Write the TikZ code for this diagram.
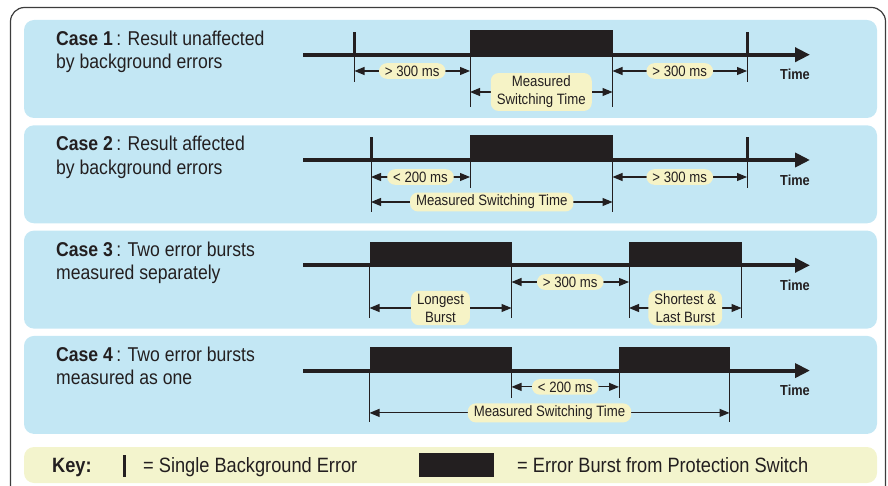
\documentclass[tikz,border=0pt]{standalone}
\usepackage{fontspec}
\setmainfont{Liberation Sans}[FakeStretch=0.88]
\usetikzlibrary{arrows.meta}

\definecolor{ink}{HTML}{231F20}
\definecolor{panelblue}{HTML}{C3E7F4}
\definecolor{keyyellow}{HTML}{F3F4CD}
\definecolor{tagyellow}{HTML}{F6F3C6}
\definecolor{framegray}{HTML}{3C3C3C}

\newcommand{\casefont}{\fontsize{20}{24}\selectfont}
\newcommand{\keyfont}{\fontsize{20.7}{24}\selectfont}
\newcommand{\tagfont}{\fontsize{15}{18}\selectfont}
\newcommand{\timefont}{\fontsize{14.5}{16}\selectfont\bfseries}

\tikzset{
  panel/.style={fill=panelblue, rounded corners=10pt},
  keypanel/.style={fill=keyyellow, rounded corners=10pt},
  timeaxis/.style={draw=ink, line width=4pt, -{Triangle[length=15pt,width=14pt]}},
  burst/.style={fill=ink},
  errtick/.style={fill=ink},
  extline/.style={draw=ink, line width=1pt},
  dimline/.style={draw=ink, line width=1.1pt,
    {Triangle[length=10pt,width=8pt]}-{Triangle[length=10pt,width=8pt]}},
  tag/.style={fill=tagyellow, rounded corners=8pt, inner xsep=6pt, inner ysep=2.5pt,
    font=\tagfont, text=ink, align=center},
  casetext/.style={anchor=base west, inner sep=0pt, font=\casefont, text=ink},
  keytext/.style={anchor=base west, inner sep=0pt, font=\keyfont, text=ink},
  timetag/.style={anchor=base, inner sep=0pt, font=\timefont, text=ink},
}

\begin{document}
\begin{tikzpicture}[x=1pt, y=-1pt]
\useasboundingbox (0,0) rectangle (888,486);
\clip (0,0) rectangle (888,486);

% outer frame (open at the bottom edge of the page)
\draw[framegray, line width=1.2pt, rounded corners=14pt] (10.5,7.5) rectangle (885.5,500);

% ---------------- Case 1 ----------------
\begin{scope}
  \fill[panel] (24,20) rectangle (877,118);
  \node[casetext] (c1a) at (56,45.5) {\textbf{Case 1}\,: Result unaffected};
  \node[casetext] (c1b) at (56,69) {by background errors};
  \draw[timeaxis] (303,54.7) -- (810,54.7);
  \node[timetag] (c1time) at (795,80) {Time};
  \fill[errtick] (353,32) rectangle (356,54.7);
  \fill[burst] (470,30) rectangle (612.5,56.7);
  \fill[errtick] (745.5,32) rectangle (748.5,54.7);
  \coordinate (c1e1) at (354.5,54.7);
  \coordinate (c1e2) at (470,54.7);
  \coordinate (c1e3) at (612.5,54.7);
  \coordinate (c1e4) at (747,54.7);
  \draw[extline] (c1e1) -- ++(0,27.3) coordinate (c1f1);
  \draw[extline] (c1e2) -- ++(0,52.3) coordinate (c1f2);
  \draw[extline] (c1e3) -- ++(0,52.3) coordinate (c1f3);
  \draw[extline] (c1e4) -- ++(0,27.3) coordinate (c1f4);
  \coordinate (c1d1a) at (354.5,71); \coordinate (c1d1b) at (470,71);
  \coordinate (c1d2a) at (470,92);   \coordinate (c1d2b) at (612.5,92);
  \coordinate (c1d3a) at (612.5,71); \coordinate (c1d3b) at (747,71);
  \draw[dimline] (c1d1a) -- (c1d1b) node[midway, tag] (c1t1) {> 300 ms};
  \draw[dimline] (c1d2a) -- (c1d2b) node[midway, tag, inner ysep=3pt] (c1t2) {Measured\\Switching Time};
  \draw[dimline] (c1d3a) -- (c1d3b) node[midway, tag] (c1t3) {> 300 ms};
\end{scope}

% ---------------- Case 2 ----------------
\begin{scope}[shift={(0,105.3)}]
  \fill[panel] (24,20) rectangle (877,118);
  \node[casetext] (c2a) at (56,45.5) {\textbf{Case 2}\,: Result affected};
  \node[casetext] (c2b) at (56,69) {by background errors};
  \draw[timeaxis] (303,54.7) -- (810,54.7);
  \node[timetag] (c2time) at (795,80) {Time};
  \fill[errtick] (369.5,32) rectangle (372.5,54.7);
  \fill[burst] (470,30) rectangle (612.5,56.7);
  \fill[errtick] (745.5,32) rectangle (748.5,54.7);
  \coordinate (c2e1) at (371,54.7);
  \coordinate (c2e2) at (470,54.7);
  \coordinate (c2e3) at (612.5,54.7);
  \coordinate (c2e4) at (747,54.7);
  \draw[extline] (c2e1) -- ++(0,52) coordinate (c2f1);
  \draw[extline] (c2e2) -- ++(0,28) coordinate (c2f2);
  \draw[extline] (c2e3) -- ++(0,52) coordinate (c2f3);
  \draw[extline] (c2e4) -- ++(0,28) coordinate (c2f4);
  \coordinate (c2d1a) at (371,71.7);   \coordinate (c2d1b) at (470,71.7);
  \coordinate (c2d2a) at (371,96.7);   \coordinate (c2d2b) at (612.5,96.7);
  \coordinate (c2d3a) at (612.5,71.7); \coordinate (c2d3b) at (747,71.7);
  \draw[dimline] (c2d1a) -- (c2d1b) node[midway, tag] (c2t1) {< 200 ms};
  \draw[dimline] (c2d2a) -- (c2d2b) node[midway, tag] (c2t2) {Measured Switching Time};
  \draw[dimline] (c2d3a) -- (c2d3b) node[midway, tag] (c2t3) {> 300 ms};
\end{scope}

% ---------------- Case 3 ----------------
\begin{scope}[shift={(0,210.6)}]
  \fill[panel] (24,20) rectangle (877,118);
  \node[casetext] (c3a) at (56,45.5) {\textbf{Case 3}\,: Two error bursts};
  \node[casetext] (c3b) at (56,69) {measured separately};
  \draw[timeaxis] (303,54.7) -- (810,54.7);
  \node[timetag] (c3time) at (795,80) {Time};
  \fill[burst] (369.5,31) rectangle (511.5,56.7);
  \fill[burst] (629,31) rectangle (741.5,56.7);
  \coordinate (c3e1) at (369.5,54.7);
  \coordinate (c3e2) at (511.5,54.7);
  \coordinate (c3e3) at (629,54.7);
  \coordinate (c3e4) at (741.5,54.7);
  \draw[extline] (c3e1) -- ++(0,52.5) coordinate (c3f1);
  \draw[extline] (c3e2) -- ++(0,53) coordinate (c3f2);
  \draw[extline] (c3e3) -- ++(0,53) coordinate (c3f3);
  \draw[extline] (c3e4) -- ++(0,53) coordinate (c3f4);
  \coordinate (c3d1a) at (511.5,71.4); \coordinate (c3d1b) at (629,71.4);
  \coordinate (c3d2a) at (369.5,97.4); \coordinate (c3d2b) at (511.5,97.4);
  \coordinate (c3d3a) at (629,97.4);   \coordinate (c3d3b) at (741.5,97.4);
  \draw[dimline] (c3d1a) -- (c3d1b) node[midway, tag] (c3t1) {> 300 ms};
  \draw[dimline] (c3d2a) -- (c3d2b) node[midway, tag, inner ysep=3pt] (c3t2) {Longest\\Burst};
  \draw[dimline] (c3d3a) -- (c3d3b) node[midway, tag, inner ysep=3pt] (c3t3) {Shortest \&\\Last Burst};
\end{scope}

% ---------------- Case 4 ----------------
\begin{scope}[shift={(0,315.9)}]
  \fill[panel] (24,20) rectangle (877,118);
  \node[casetext] (c4a) at (56,45.5) {\textbf{Case 4}\,: Two error bursts};
  \node[casetext] (c4b) at (56,69) {measured as one};
  \draw[timeaxis] (303,54.7) -- (810,54.7);
  \node[timetag] (c4time) at (795,80) {Time};
  \fill[burst] (369.5,31.5) rectangle (511.5,56.7);
  \fill[burst] (619,31.5) rectangle (729.5,56.7);
  \coordinate (c4e1) at (369.5,54.7);
  \coordinate (c4e2) at (511.5,54.7);
  \coordinate (c4e3) at (619,54.7);
  \coordinate (c4e4) at (729.5,54.7);
  \draw[extline] (c4e1) -- ++(0,51.5) coordinate (c4f1);
  \draw[extline] (c4e2) -- ++(0,27.5) coordinate (c4f2);
  \draw[extline] (c4e3) -- ++(0,27.5) coordinate (c4f3);
  \draw[extline] (c4e4) -- ++(0,51.5) coordinate (c4f4);
  \coordinate (c4d1a) at (511.5,71); \coordinate (c4d1b) at (619,71);
  \coordinate (c4d2a) at (369.5,97); \coordinate (c4d2b) at (729.5,97);
  \draw[dimline] (c4d1a) -- (c4d1b) node[midway, tag] (c4t1) {< 200 ms};
  \draw[dimline] (c4d2a) -- (c4d2b) node[midway, tag] (c4t2) {Measured Switching Time};
\end{scope}

% ---------------- Key ----------------
\fill[keypanel] (24,447) rectangle (877,483);
\node[keytext] (keyhead) at (52,472) {\textbf{Key:}};
\fill[errtick] (122.5,455) rectangle (125.5,477);
\node[keytext] (keytick) at (143,472) {= Single Background Error};
\fill[burst] (419,453) rectangle (494,477);
\node[keytext] (keyburst) at (517,472) {= Error Burst from Protection Switch};
\end{tikzpicture}
\end{document}
